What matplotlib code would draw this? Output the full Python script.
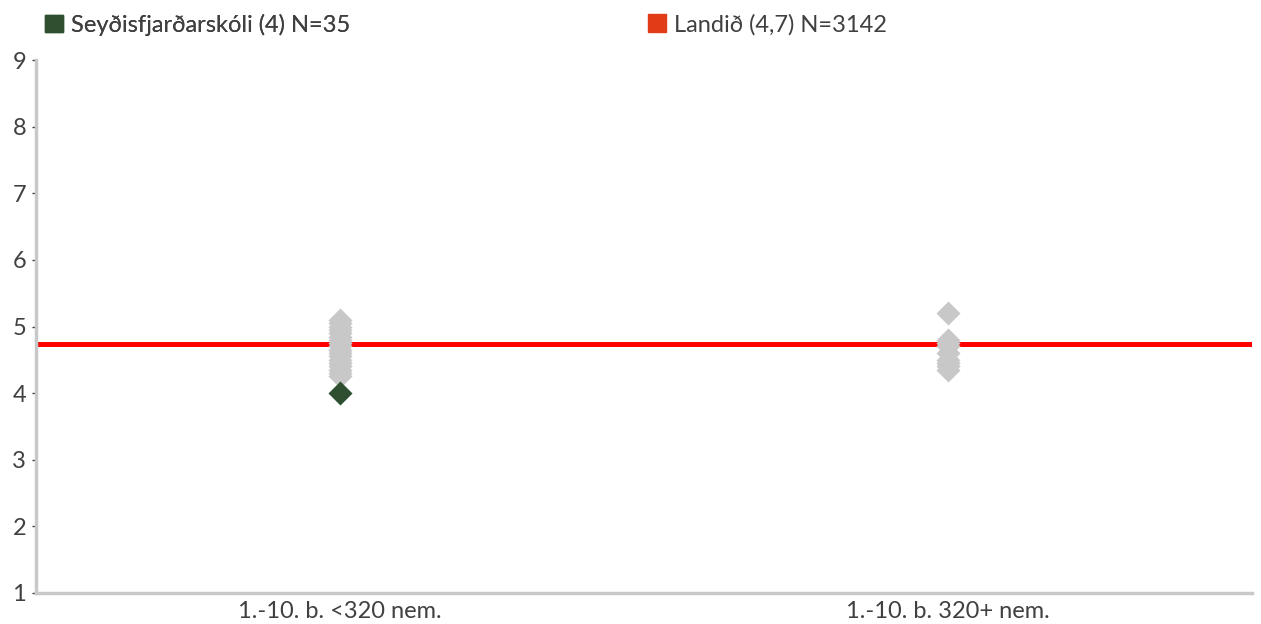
import matplotlib
matplotlib.use("Agg")
import matplotlib.pyplot as plt
from matplotlib.patches import Patch

categories = ["1.-10. b. <320 nem.", "1.-10. b. 320+ nem."]
other_small = [5.1, 5.05, 5.0, 4.95, 4.9, 4.85, 4.8, 4.75, 4.7, 4.65, 4.6, 4.55, 4.5, 4.45, 4.4, 4.35, 4.3, 4.25]
other_large = [5.2, 4.8, 4.75, 4.7, 4.6, 4.5, 4.45, 4.4, 4.35]
school_value = 4.0
school_cat = 0
national_value = 4.74
school_label = "Seyðisfjarðarskóli (4) N=35"
national_label = "Landið (4,7) N=3142"
yticks = [1, 2, 3, 4, 5, 6, 7, 8, 9]

plt.rcParams['font.family'] = ['Lato', 'DejaVu Sans']
fig = plt.figure(figsize=(12.61, 6.24), dpi=100)
ax = fig.add_axes([0.0285, 0.0497, 0.9645, 0.8541])

ax.axhline(national_value, color="#ff0000", lw=3.6, zorder=1)
ax.scatter([0] * len(other_small), other_small, marker="D", s=150, color="#c8c8c8", zorder=2, linewidths=0)
ax.scatter([1] * len(other_large), other_large, marker="D", s=150, color="#c8c8c8", zorder=2, linewidths=0)
ax.scatter([school_cat], [school_value], marker="D", s=150, color="#2f5030", zorder=3, linewidths=0)

ax.set_xlim(-0.5, 1.5)
ax.set_ylim(1, 9)
ax.set_yticks(yticks)
ax.set_xticks([0, 1])
ax.set_xticklabels(categories)
for s in ["top", "right"]:
    ax.spines[s].set_visible(False)
for s in ["left", "bottom"]:
    ax.spines[s].set_color("#c8c8c8")
    ax.spines[s].set_linewidth(2.5)
ax.tick_params(axis="y", length=3, width=1, color="#404040", labelsize=17, labelcolor="#404040", pad=4)
ax.tick_params(axis="x", length=0, labelsize=17, labelcolor="#404040", pad=6)

leg1 = fig.legend(handles=[Patch(color="#2f5030")], labels=[school_label], loc="upper left",
                  bbox_to_anchor=(0.019, 1.012), frameon=False, fontsize=17, handlelength=0.75,
                  handleheight=0.75, handletextpad=0.35, labelcolor="#404040")
fig.add_artist(leg1)
fig.legend(handles=[Patch(color="#e03c18")], labels=[national_label], loc="upper left",
           bbox_to_anchor=(0.497, 1.012), frameon=False, fontsize=17, handlelength=0.75,
           handleheight=0.75, handletextpad=0.35, labelcolor="#404040")

fig.savefig("out.png", dpi=100)
